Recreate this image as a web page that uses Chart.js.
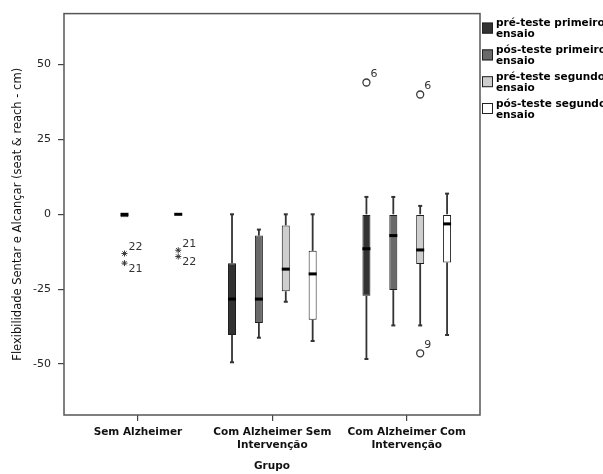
<!DOCTYPE html>
<html>
<head>
<meta charset="utf-8">
<script src="https://cdn.jsdelivr.net/npm/chart.js@4.4.1/dist/chart.umd.min.js"></script>
<style>
  html, body { margin: 0; padding: 0; background: #fff; }
  #wrap { width: 603px; height: 474px; }
</style>
</head>
<body>
<div id="wrap"><canvas id="c" width="603" height="474"></canvas></div>
<script>
// Groups on the horizontal axis
const categories = ['Sem Alzheimer', ['Com Alzheimer Sem', 'Intervenção'], ['Com Alzheimer Com', 'Intervenção']];
const seriesNames = ['pré-teste primeiro ensaio', 'pós-teste primeiro ensaio', 'pré-teste segundo ensaio', 'pós-teste segundo ensaio'];

// Five-number summaries per group: [lower whisker, Q1, median, Q3, upper whisker]
const preTeste1 = [null, [-49.4, -40.3, -28.3, -16.3, 0], [-48.3, -27.2, -11.5, 0, 5.8]];
const posTeste1 = [[-1, -1, 0, 0, 0], [-41.2, -36.3, -28.3, -7.1, -5.1], [-37.1, -25.3, -7.1, 0, 5.8]];
const preTeste2 = [null, [-29.2, -25.7, -18.3, -3.7, 0], [-37.1, -16.6, -11.9, 0, 2.8]];
const posTeste2 = [[0, 0, 0, 0, 0], [-42.3, -35.2, -19.9, -12.2, 0], [-40.3, -16.1, -3.2, 0, 6.9]];

// Outlying cases: [group index, value, case number, kind ('o' outlier, '*' extreme)]
const outPre1 = [[2, 44, '6', 'o']];
const outPos1 = [[0, -13.1, '22', '*'], [0, -16.3, '21', '*']];
const outPre2 = [[2, 40, '6', 'o'], [2, -46.4, '9', 'o']];
const outPos2 = [[0, -12, '21', '*'], [0, -14.1, '22', '*']];

const yTicks = [-50, -25, 0, 25, 50];

const summaries = [preTeste1, posTeste1, preTeste2, posTeste2];
const outliers = [outPre1, outPos1, outPre2, outPos2];
const fills = ['#323232', '#6a6a6a', '#cecece', '#ffffff'];
const slot = [-0.3, -0.1, 0.1, 0.3];   // position of each series inside its group
const FONT = '"DejaVu Sans", Verdana, sans-serif';

const boxSets = summaries.map((s, d) => ({
  type: 'bar',
  label: seriesNames[d],
  data: s.map((v, g) => v ? { x: g + 1 + slot[d], y: [v[1], v[3]], stats: v } : null).filter(Boolean),
  backgroundColor: fills[d],
  borderColor: '#1e1e1e',
  borderWidth: 1,
  borderSkipped: false,
  grouped: false,
  maxBarThickness: 8,
  order: 2
}));

const caseSets = outliers.map((list, d) => ({
  type: 'scatter',
  label: seriesNames[d],
  data: list.map(o => ({ x: o[0] + 1 + slot[d], y: o[1], id: o[2] })),
  pointStyle: list.map(o => o[3] === '*' ? 'star' : 'circle'),
  pointRadius: list.map(o => o[3] === '*' ? 3 : 3.5),
  borderColor: '#3a3a3a',
  backgroundColor: 'rgba(0,0,0,0)',
  borderWidth: list.map(o => o[3] === '*' ? 1 : 1.3),
  order: 1
}));

// whiskers under the boxes, medians on top
const boxPlot = {
  id: 'boxPlot',
  beforeDatasetsDraw(chart) {
    const ctx = chart.ctx, ys = chart.scales.y;
    chart.data.datasets.forEach((ds, d) => {
      if (ds.type !== 'bar') return;
      chart.getDatasetMeta(d).data.forEach((bar, i) => {
        const s = ds.data[i].stats, x = bar.x;
        ctx.save();
        ctx.strokeStyle = '#333';
        const seg = (a, b) => {
          if (a === b) return;
          const pa = ys.getPixelForValue(a), pb = ys.getPixelForValue(b);
          ctx.lineWidth = 1.8;
          ctx.beginPath(); ctx.moveTo(x, pa); ctx.lineTo(x, pb); ctx.stroke();
          ctx.lineWidth = 2;
          ctx.beginPath(); ctx.moveTo(x - 2, pa); ctx.lineTo(x + 2, pa); ctx.stroke();
        };
        seg(s[0], s[1]);
        seg(s[4], s[3]);
        ctx.restore();
      });
    });
  },
  afterDatasetsDraw(chart) {
    const ctx = chart.ctx, ys = chart.scales.y, area = chart.chartArea;
    chart.data.datasets.forEach((ds, d) => {
      const meta = chart.getDatasetMeta(d);
      if (ds.type === 'bar') {
        meta.data.forEach((bar, i) => {
          const py = ys.getPixelForValue(ds.data[i].stats[2]);
          ctx.fillStyle = '#000';
          ctx.fillRect(bar.x - bar.width / 2, py - 1.5, bar.width, 3);
        });
      } else {
        // case numbers beside outlying points
        ctx.save();
        ctx.font = '11px ' + FONT;
        ctx.fillStyle = '#333';
        ctx.textBaseline = 'middle';
        ctx.textAlign = 'left';
        meta.data.forEach((pt, i) => {
          let dy = -8;
          meta.data.forEach((other, j) => {
            if (j === i || Math.abs(other.x - pt.x) > 1) return;
            const gap = other.y - pt.y;
            if (gap > 0 && gap < 25) dy = -6;
            if (gap < 0 && gap > -25) dy = 6;
          });
          ctx.fillText(ds.data[i].id, pt.x + 4, pt.y + dy);
        });
        ctx.restore();
      }
    });
    // plot frame
    ctx.save();
    ctx.strokeStyle = '#555';
    ctx.lineWidth = 1.5;
    ctx.strokeRect(area.left, area.top, area.right - area.left, area.bottom - area.top);
    ctx.restore();
  }
};

const sideLegend = {
  id: 'sideLegend',
  afterDraw(chart) {
    const ctx = chart.ctx, area = chart.chartArea;
    ctx.save();
    ctx.font = 'bold 10.5px ' + FONT;
    ctx.textBaseline = 'middle';
    ctx.textAlign = 'left';
    seriesNames.forEach((name, d) => {
      const cut = name.lastIndexOf(' ');
      const lines = [name.slice(0, cut), name.slice(cut + 1)];
      const y0 = area.top + 10 + d * 26.8;
      ctx.fillStyle = fills[d];
      ctx.fillRect(area.right + 2, y0 - 1, 11, 11);
      ctx.strokeStyle = '#222';
      ctx.lineWidth = 1;
      ctx.strokeRect(area.right + 2.5, y0 - 0.5, 10, 10);
      ctx.fillStyle = '#000';
      ctx.fillText(lines[0], area.right + 16, y0);
      ctx.fillText(lines[1], area.right + 16, y0 + 11);
    });
    ctx.restore();
  }
};

new Chart(document.getElementById('c'), {
  type: 'bar',
  data: { datasets: [...boxSets, ...caseSets] },
  options: {
    responsive: false,
    animation: false,
    events: [],
    layout: { padding: { top: 7, right: 123, left: 0, bottom: 0 } },
    plugins: { legend: { display: false }, tooltip: { enabled: false } },
    scales: {
      x: {
        type: 'linear',
        offset: false,
        min: 0.45,
        max: 3.545,
        afterBuildTicks: s => { s.ticks = categories.map((c, i) => ({ value: i + 1 })); },
        afterFit: s => { s.height = 59; },
        border: { display: false },
        grid: { offset: false, drawOnChartArea: false, drawTicks: true, tickLength: 6, color: '#444', lineWidth: 1.2 },
        ticks: {
          padding: 4,
          maxRotation: 0,
          autoSkip: false,
          color: '#111',
          font: { family: FONT, size: 10.5, weight: 'bold', lineHeight: 1.3 },
          callback: v => categories[Math.round(v) - 1]
        },
        title: {
          display: true, text: 'Grupo', color: '#111',
          font: { family: FONT, size: 10.5, weight: 'bold' },
          padding: { top: 0, bottom: 1 }
        }
      },
      y: {
        type: 'linear',
        min: -67,
        max: 67,
        afterBuildTicks: s => { s.ticks = yTicks.map(v => ({ value: v })); },
        afterFit: s => { s.width = 64; },
        border: { display: false },
        grid: { drawOnChartArea: false, drawTicks: true, tickLength: 6, color: '#444', lineWidth: 1.2 },
        ticks: { padding: 7, color: '#222', font: { family: FONT, size: 11 } },
        title: {
          display: true, text: 'Flexibilidade Sentar e Alcançar (seat & reach - cm)', color: '#111',
          font: { family: FONT, size: 11.5 },
          padding: { top: 11, bottom: 0 }
        }
      }
    }
  },
  plugins: [boxPlot, sideLegend]
});
</script>
</body>
</html>
